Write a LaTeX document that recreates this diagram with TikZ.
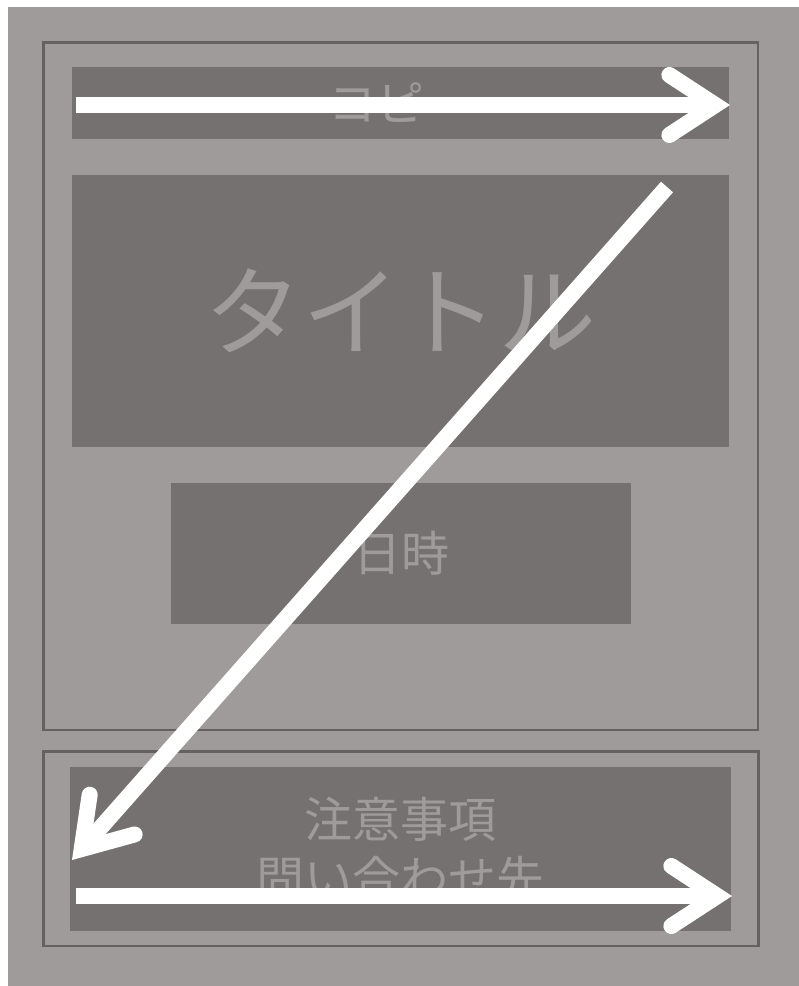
\documentclass[tikz,border=0pt]{standalone}
\usepackage{fontspec}
\usepackage{tikz}
\usetikzlibrary{
        arrows.meta,
        positioning
    }
\newfontfamily\jpfont{Noto Sans CJK JP}
\definecolor{bggray}{RGB}{159,155,154}
\definecolor{boxgray}{RGB}{117,113,112}
\definecolor{framegray}{RGB}{101,97,96}
\tikzset{
    frame/.style={draw=framegray,line width=2.5pt},
    box/.style={fill=boxgray,inner sep=0pt,text=bggray,font=\jpfont\fontsize{48}{59}\selectfont,align=center},
    flow/.style={draw=white,line width=16pt,line cap=butt,
        -{Straight Barb[length=46pt,width=60pt,line cap=round]}}
}

\begin{document}
\begin{tikzpicture}[x=1pt,y=-1pt]
    \useasboundingbox (0,0) rectangle (799,986);
    \fill[bggray] (8,7) rectangle (799,986);
    \draw[frame] (43.5,42.5) rectangle (758,730);
    \draw[frame] (43.5,751.5) rectangle (758.5,946);
        \node[box,minimum width=657pt,minimum height=72pt] (copy) at (400.5,103) {コピー};
        \node[box,minimum width=657pt,minimum height=272pt,font=\jpfont\fontsize{98}{110}\selectfont] (title) at (400.5,311) {タイトル};
        \node[box,minimum width=460pt,minimum height=141pt] (date) at (401,553.5) {日時};
        \node[box,minimum width=661pt,minimum height=164pt] (note) at (400.5,849) {注意事項\\問い合わせ先};
    % arrow ends
    \coordinate (copy-in) at (76,105);
    \coordinate (copy-out) at (730,105);
    \coordinate (diag-in) at (667,187);
    \coordinate (diag-out) at (72,860);
    \coordinate (note-in) at (76,896);
    \coordinate (note-out) at (732,896);
            \path
                    (copy-in) edge[flow] (copy-out)
                    (diag-in) edge[flow] (diag-out)
                    (note-in) edge[flow] (note-out);
\end{tikzpicture}
\end{document}
